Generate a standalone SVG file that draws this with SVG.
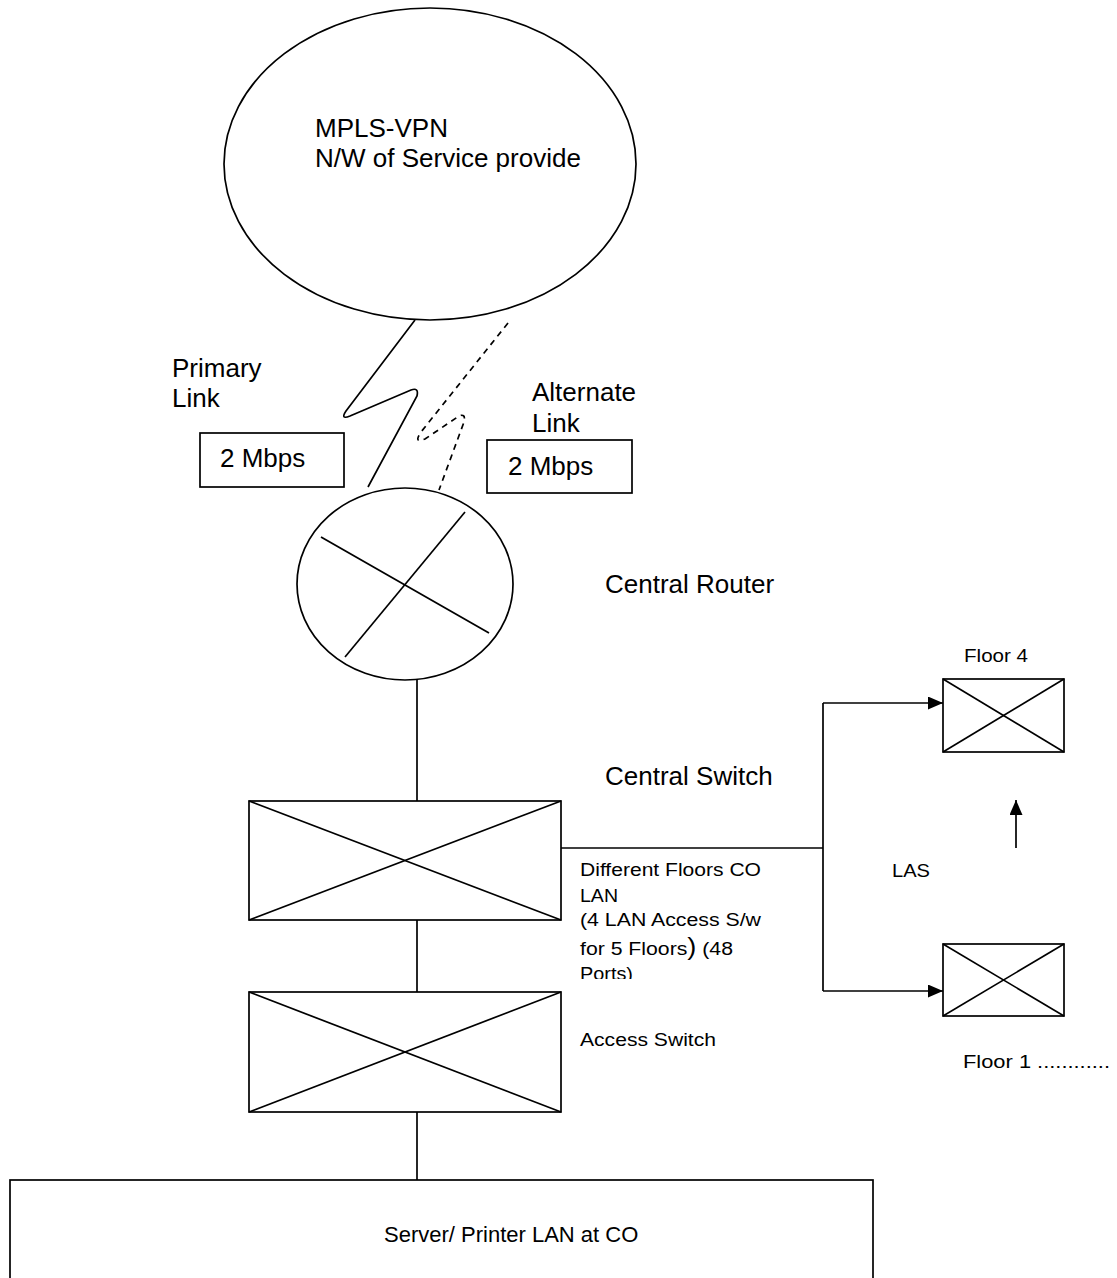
<svg xmlns="http://www.w3.org/2000/svg" width="1117" height="1278" viewBox="0 0 1117 1278">
<style>
  .s { fill: none; stroke: #000; stroke-width: 1.7; }
  .box { fill: #fff; stroke: #000; stroke-width: 1.7; }
  .t { font-family: "Liberation Sans", Arial, sans-serif; fill: #000; }
  .big { font-size: 26px; }
  .med { font-size: 22px; }
  .sm { font-size: 18px; }
</style>
<defs>
  <marker id="arr" markerWidth="15" markerHeight="13" refX="15" refY="6.5" orient="auto" markerUnits="userSpaceOnUse">
    <path d="M0,0 L15,6.5 L0,13 Z" fill="#000"/>
  </marker>
  <clipPath id="clipNote">
    <rect x="570" y="855" width="220" height="124"/>
  </clipPath>
</defs>
<rect width="1117" height="1278" fill="#fff"/>

<g id="connectors">
  <path class="s" d="M415,320 L346,411 Q340,420 350,416 L411,390 Q419,387 417,396 L368,487"/>
  <path class="s" stroke-dasharray="6,5" d="M508,323 L421,432 Q413,444 425,439 L459,416 Q466,413 464,422 L439,490"/>
  <line class="s" x1="417" y1="680" x2="417" y2="801"/>
  <line class="s" x1="417" y1="920" x2="417" y2="992"/>
  <line class="s" x1="417" y1="1112" x2="417" y2="1180"/>
  <line class="s" x1="561" y1="848" x2="823" y2="848"/>
  <line class="s" x1="823" y1="703" x2="823" y2="991"/>
  <line class="s" x1="823" y1="703" x2="943" y2="703" marker-end="url(#arr)"/>
  <line class="s" x1="823" y1="991" x2="943" y2="991" marker-end="url(#arr)"/>
  <line class="s" x1="1016" y1="848" x2="1016" y2="800" marker-end="url(#arr)"/>
</g>

<g id="mpls-cloud">
  <ellipse class="box" cx="430" cy="164" rx="206" ry="156"/>
  <text class="t big" x="315" y="137">MPLS-VPN</text>
  <text class="t big" x="315" y="167">N/W of Service provide</text>
</g>

<g id="primary-label">
  <text class="t big" x="172" y="377">Primary</text>
  <text class="t big" x="172" y="407">Link</text>
</g>
<g id="alternate-label">
  <text class="t big" x="532" y="401">Alternate</text>
  <text class="t big" x="532" y="432">Link</text>
</g>

<g id="primary-bw">
  <rect class="box" x="200" y="433" width="144" height="54"/>
  <text class="t big" x="220" y="467">2 Mbps</text>
</g>
<g id="alternate-bw">
  <rect class="box" x="487" y="440" width="145" height="53"/>
  <text class="t big" x="508" y="475">2 Mbps</text>
</g>

<g id="central-router">
  <ellipse class="box" cx="405" cy="584" rx="108" ry="96"/>
  <line class="s" x1="321" y1="537" x2="489" y2="633"/>
  <line class="s" x1="465" y1="512" x2="345" y2="657"/>
  <text class="t big" x="605" y="593">Central Router</text>
</g>

<g id="central-switch">
  <rect class="box" x="249" y="801" width="312" height="119"/>
  <line class="s" x1="249" y1="801" x2="561" y2="920"/>
  <line class="s" x1="561" y1="801" x2="249" y2="920"/>
  <text class="t big" x="605" y="785">Central Switch</text>
</g>

<g id="floors-note" clip-path="url(#clipNote)">
  <text class="t sm" x="580" y="876" textLength="181" lengthAdjust="spacingAndGlyphs">Different Floors CO</text>
  <text class="t sm" x="580" y="902" textLength="38" lengthAdjust="spacingAndGlyphs">LAN</text>
  <text class="t sm" x="580" y="926" textLength="181" lengthAdjust="spacingAndGlyphs">(4 LAN Access S/w</text>
  <text class="t sm" x="580" y="955" textLength="153" lengthAdjust="spacingAndGlyphs">for 5 Floors<tspan font-size="23">)</tspan> (48</text>
  <text class="t sm" x="580" y="980" textLength="53" lengthAdjust="spacingAndGlyphs">Ports)</text>
</g>

<g id="access-switch">
  <rect class="box" x="249" y="992" width="312" height="120"/>
  <line class="s" x1="249" y1="992" x2="561" y2="1112"/>
  <line class="s" x1="561" y1="992" x2="249" y2="1112"/>
  <text class="t sm" x="580" y="1046" textLength="136" lengthAdjust="spacingAndGlyphs">Access Switch</text>
</g>

<g id="floor4-switch">
  <rect class="box" x="943" y="679" width="121" height="73"/>
  <line class="s" x1="943" y1="679" x2="1064" y2="752"/>
  <line class="s" x1="1064" y1="679" x2="943" y2="752"/>
  <text class="t sm" x="964" y="662" textLength="64" lengthAdjust="spacingAndGlyphs">Floor 4</text>
</g>

<g id="las-label">
  <text class="t sm" x="892" y="877" textLength="38" lengthAdjust="spacingAndGlyphs">LAS</text>
</g>

<g id="floor1-switch">
  <rect class="box" x="943" y="944" width="121" height="72"/>
  <line class="s" x1="943" y1="944" x2="1064" y2="1016"/>
  <line class="s" x1="1064" y1="944" x2="943" y2="1016"/>
  <text class="t sm" x="963" y="1068" textLength="147" lengthAdjust="spacingAndGlyphs">Floor 1 ............</text>
</g>

<g id="server-lan">
  <rect class="box" x="10" y="1180" width="863" height="110"/>
  <text class="t med" x="384" y="1242">Server/ Printer LAN at CO</text>
</g>
</svg>
